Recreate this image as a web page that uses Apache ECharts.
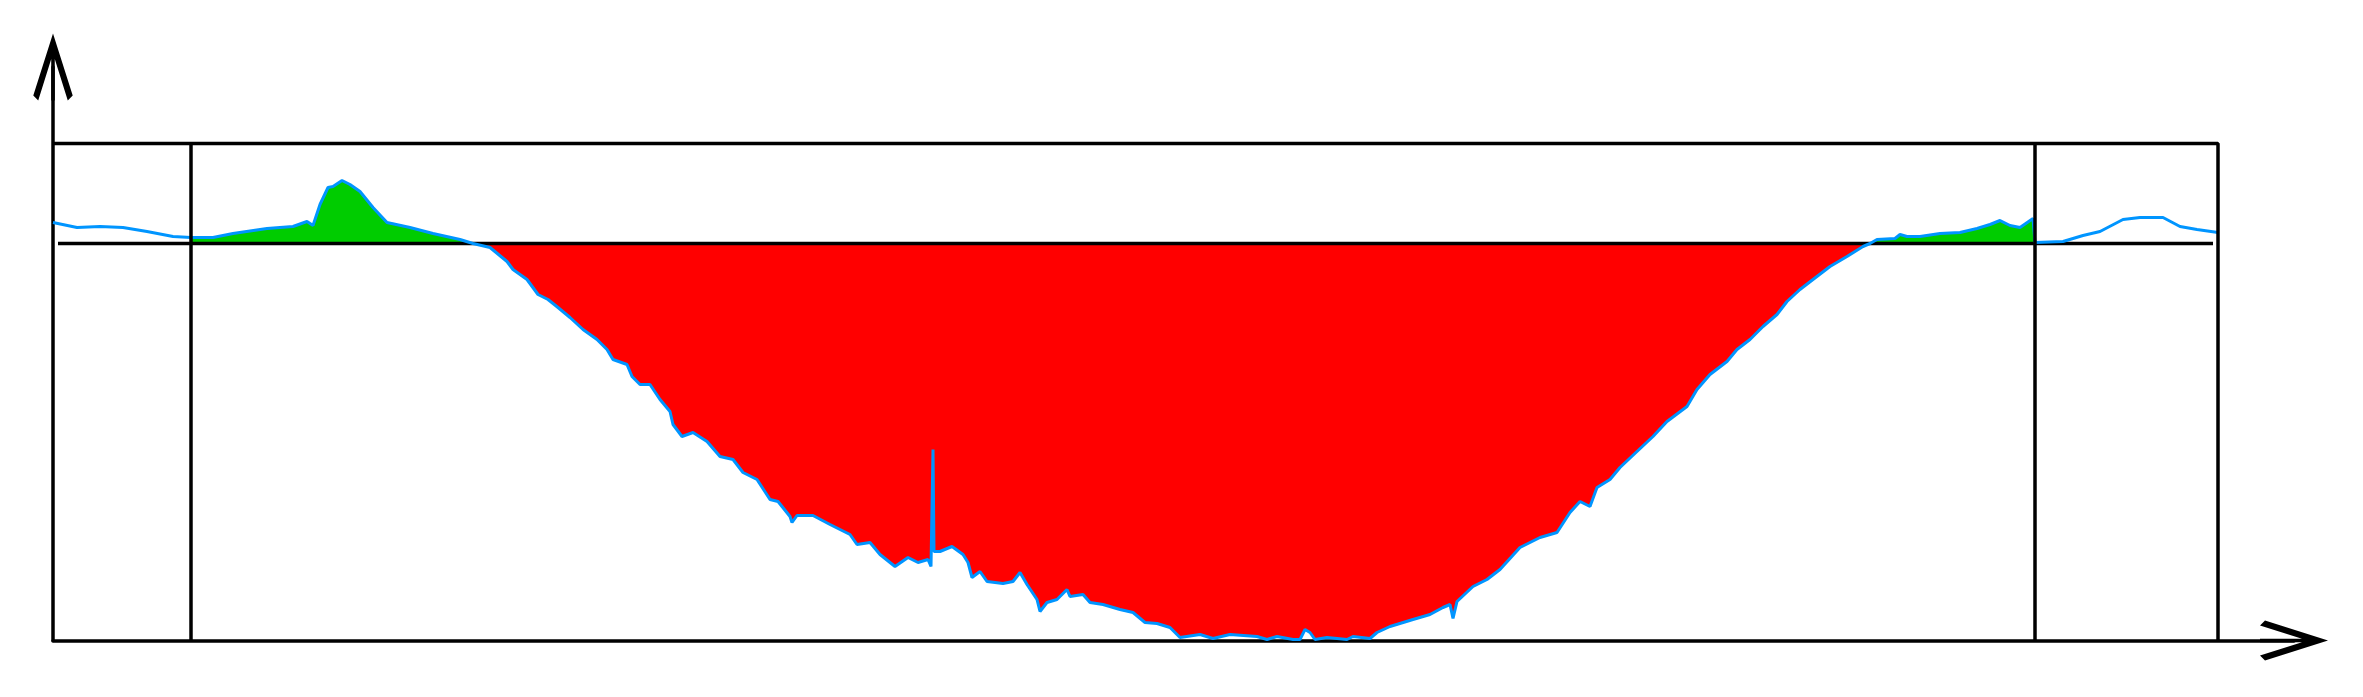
<!DOCTYPE html>
<html>
<head>
<meta charset="utf-8">
<title>cross section</title>
<script src="https://cdn.jsdelivr.net/npm/echarts@6.0.0/dist/echarts.min.js"></script>
<style>
  html, body { margin: 0; padding: 0; background: #fff; }
  #chart { width: 2363px; height: 697px; }
</style>
</head>
<body>
<div id="chart"></div>
<script>
// ground profile: station along the section and elevation above the bottom line
const station = [
  0, 2.4, 4.7, 7.0, 9.4, 12.0, 13.8, 16.0, 18.0, 21.4,
  24.0, 25.4, 26.0, 26.7, 27.5, 28.0, 28.9, 29.7, 30.7, 32.0,
  33.4, 35.7, 38.0, 40.7, 42.0, 43.7, 45.4, 46.0, 47.4, 48.5,
  49.5, 50.5, 51.7, 53.0, 54.4, 55.4, 56.0, 57.4, 57.9, 58.7,
  59.7, 60.7, 61.7, 62.0, 62.9, 64.0, 65.4, 66.7, 68.0, 69.0,
  70.4, 71.7, 72.5, 73.7, 73.9, 74.4, 76.0, 77.7, 79.7, 80.4,
  81.7, 82.7, 84.2, 85.5, 86.5, 87.5, 87.8, 88.0, 88.1, 88.7,
  89.9, 91.0, 91.5, 91.9, 92.7, 93.4, 95.0, 96.0, 96.7, 97.4,
  98.4, 98.7, 99.4, 100.4, 101.4, 101.7, 103.0, 103.7, 105.0, 106.7,
  108.0, 109.2, 110.4, 111.7, 112.4, 112.7, 114.7, 116.0, 117.7, 120.4,
  121.4, 122.4, 124.0, 124.7, 125.2, 125.7, 126.2, 127.4, 129.4, 130.0,
  131.7, 132.4, 133.7, 136.0, 137.7, 139.0, 139.7, 140.0, 140.4, 142.0,
  143.4, 144.7, 146.7, 148.7, 150.4, 151.7, 152.7, 153.7, 154.4, 155.7,
  156.7, 158.4, 160.0, 161.4, 163.4, 164.4, 165.7, 167.4, 168.4, 169.7,
  171.0, 172.4, 173.4, 174.7, 176.0, 177.7, 179.4, 181.0, 181.7, 182.4,
  184.2, 184.7, 185.4, 186.7, 188.7, 190.7, 192.4, 193.7, 194.7, 195.7,
  196.7, 198.0, 198.2, 198.2, 201.0, 203.0, 204.7, 207.0, 208.7, 211.0,
  212.7, 214.4, 216.5
]
const elevation = [
  41.8, 41.3, 41.4, 41.3, 40.9, 40.4, 40.3, 40.3, 40.7, 41.2,
  41.4, 41.9, 41.5, 43.6, 45.3, 45.4, 46.0, 45.6, 44.9, 43.3,
  41.8, 41.3, 40.7, 40.1, 39.7, 39.3, 37.9, 37.1, 36.1, 34.6,
  34.1, 33.3, 32.3, 31.1, 30.1, 29.1, 28.1, 27.6, 26.4, 25.6,
  25.6, 24.1, 22.9, 21.6, 20.4, 20.8, 19.9, 18.4, 18.1, 16.8,
  16.1, 14.1, 13.9, 12.4, 11.8, 12.5, 12.5, 11.6, 10.6, 9.6,
  9.8, 8.6, 7.4, 8.3, 7.8, 8.1, 7.4, 19.1, 8.9, 8.9,
  9.4, 8.6, 7.8, 6.3, 6.9, 5.9, 5.7, 5.9, 6.8, 5.6,
  4.1, 2.9, 3.8, 4.1, 5.1, 4.4, 4.6, 3.8, 3.6, 3.1,
  2.8, 1.8, 1.7, 1.3, 0.6, 0.3, 0.6, 0.2, 0.6, 0.4,
  0.1, 0.4, 0.1, 0.1, 1.1, 0.8, 0.1, 0.3, 0.1, 0.4,
  0.2, 0.8, 1.4, 2.1, 2.6, 3.3, 3.6, 2.2, 3.9, 5.4,
  6.1, 7.1, 9.3, 10.3, 10.8, 12.8, 13.9, 13.4, 15.3, 16.1,
  17.3, 18.9, 20.4, 21.9, 23.4, 25.1, 26.6, 27.9, 29.1, 30.1,
  31.4, 32.6, 33.9, 35.1, 36.1, 37.4, 38.4, 39.4, 39.7, 40.1,
  40.2, 40.6, 40.4, 40.4, 40.7, 40.8, 41.2, 41.6, 42.0, 41.5,
  41.3, 42.2, 42.2, 39.8, 39.9, 40.5, 40.9, 42.1, 42.3, 42.3,
  41.4, 41.1, 40.8
]

// section frame
const waterLevel = 39.7
const waterStart = 0.5
const waterEnd = 216.0
const frameTop = 49.7
const frameRight = 216.5
const leftBank = 13.8
const rightBank = 198.2

// open arrow head, tip pointing up (echarts rotates it for the x axis)
const arrowPath = 'path://M20,0 L40,63 L35,68 L21.8,26 L21.8,68 L18.2,68 L18.2,26 L5,68 L0,63 Z'

const profile = station.map((x, i) => [x, elevation[i]])
const between = profile.filter(p => p[0] >= leftBank && p[0] <= rightBank)
const above = between.map(p => [p[0], Math.max(p[1], waterLevel)])
const below = between.map(p => [p[0], Math.min(p[1], waterLevel)])

function axis(max, size) {
  return {
    type: 'value',
    min: 0,
    max: max,
    axisLine: {
      onZero: false,
      symbol: ['none', arrowPath],
      symbolSize: size,
      lineStyle: { color: '#000', width: 3.5 }
    },
    axisTick: { show: false },
    axisLabel: { show: false },
    splitLine: { show: false }
  }
}

function blackLine(data) {
  return {
    type: 'line',
    data: data,
    symbol: 'none',
    silent: true,
    z: 6,
    lineStyle: { color: '#000', width: 3.5 }
  }
}

function fill(data, color) {
  return {
    type: 'line',
    data: data,
    symbol: 'none',
    silent: true,
    z: 1,
    lineStyle: { opacity: 0, width: 0 },
    areaStyle: { color: color, opacity: 1, origin: waterLevel }
  }
}

const myChart = echarts.init(document.getElementById('chart'))
myChart.setOption({
  animation: false,
  backgroundColor: '#fff',
  grid: { left: 53, right: 69, top: 67, bottom: 56.5 },
  xAxis: axis(224.1, [40, 68]),
  yAxis: axis(57.35, [41, 67]),
  series: [
    fill(above, '#00cc00'),
    fill(below, '#ff0000'),
    Object.assign(blackLine([[waterStart, waterLevel], [waterEnd, waterLevel]]), { z: 3 }),
    {
      type: 'line',
      data: profile,
      symbol: 'none',
      silent: true,
      z: 4,
      lineStyle: { color: '#0095ff', width: 3 }
    },
    blackLine([[0, frameTop], [frameRight, frameTop], [frameRight, 0]]),
    blackLine([[leftBank, 0], [leftBank, frameTop]]),
    blackLine([[rightBank, 0], [rightBank, frameTop]])
  ]
})
</script>
</body>
</html>
